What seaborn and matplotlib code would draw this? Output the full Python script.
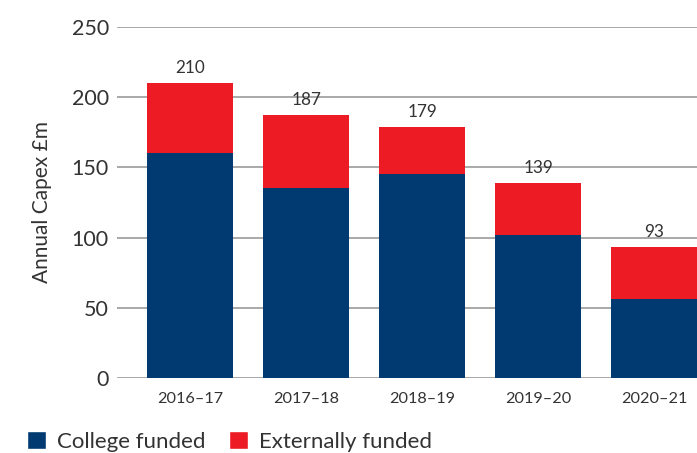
import matplotlib
matplotlib.use("Agg")
import matplotlib.pyplot as plt
from matplotlib.patches import Patch
import seaborn as sns
import pandas as pd

years = ["2016\u201317", "2017\u201318", "2018\u201319", "2019\u201320", "2020\u201321"]
college = [160, 135, 145, 102, 56]
totals = [210, 187, 179, 139, 93]
external = [t - c for t, c in zip(totals, college)]

navy = "#003A70"
red = "#ED1C24"
text_col = "#333333"

sns.set_theme(style="white")
plt.rcParams["font.family"] = ["Lato", "DejaVu Sans"]

df = pd.DataFrame({"year": years, "college": college, "external": external, "total": totals})

fig = plt.figure(figsize=(6.97, 4.53), dpi=100)
ax = fig.add_axes([0.168, 0.1656, 0.832, 0.7748])

# Full stack in red, then college-funded share over it in navy
sns.barplot(data=df, x="year", y="total", color=red, width=0.74, saturation=1,
            linewidth=0, ax=ax, zorder=2)
sns.barplot(data=df, x="year", y="college", color=navy, width=0.74, saturation=1,
            linewidth=0, ax=ax, zorder=3)

for i, t in enumerate(totals):
    ax.text(i, t + 5, str(t), ha="center", va="bottom", fontsize=12.3, color=text_col)

ax.set_ylim(0, 250)
ax.set_xlim(-0.63, 4.37)
ax.set_yticks([0, 50, 100, 150, 200, 250])
ax.yaxis.grid(True, color="#9a9a9a", linewidth=1.2, zorder=0)
ax.set_axisbelow(True)
for s in ax.spines.values():
    s.set_visible(False)
ax.tick_params(axis="y", length=0, pad=6, labelsize=15.5, labelcolor=text_col)
ax.tick_params(axis="x", length=0, pad=10, labelsize=11.7, labelcolor=text_col)
ax.set_xlabel("")
ax.set_ylabel("Annual Capex \u00a3m", fontsize=15, color=text_col, labelpad=14)

handles = [Patch(facecolor=navy, label="College funded"),
           Patch(facecolor=red, label="Externally funded")]
fig.legend(handles=handles, loc="lower left", bbox_to_anchor=(0.01, -0.042), ncol=2,
           frameon=False, fontsize=16, handlelength=0.85, handleheight=0.85,
           handletextpad=0.5, columnspacing=1.05, labelcolor=text_col)

fig.savefig("out.png", dpi=100)
